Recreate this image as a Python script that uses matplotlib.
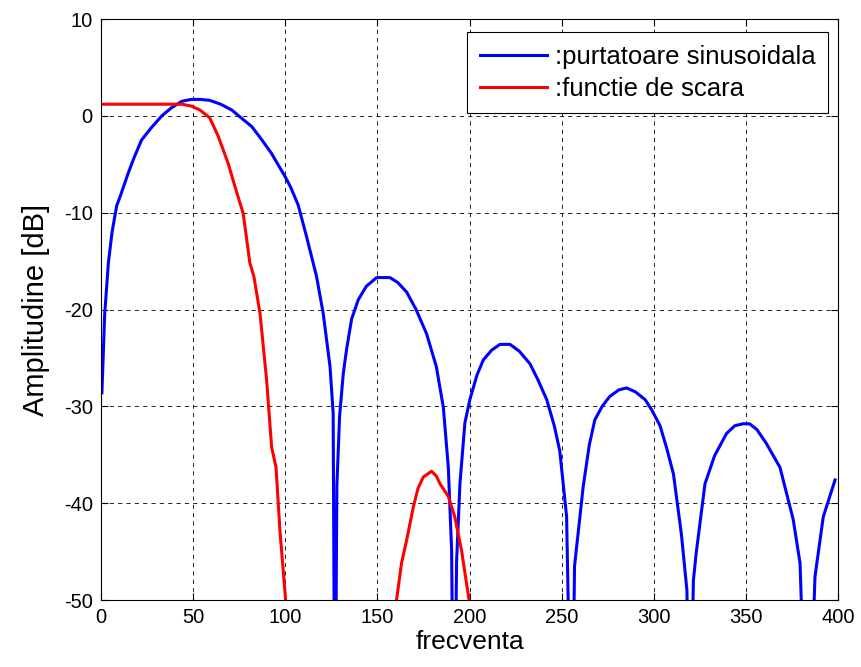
import numpy as np
import matplotlib
matplotlib.use("Agg")
import matplotlib.pyplot as plt

plt.rcParams['font.family'] = ['Liberation Sans', 'DejaVu Sans']
plt.rcParams['axes.unicode_minus'] = False

# purtatoare sinusoidala (blue)
blue_x = [0.5, 2, 4, 6, 8.5, 11, 14.8, 18, 22, 27, 33, 38, 43.8, 49, 54, 59, 65, 71, 76, 81.8,
          87, 92.6, 100, 103, 107, 111.6, 117, 120.6, 124.3, 126, 127, 128, 129.5, 131.5, 133.3,
          136, 139.6, 144, 149.6, 156.8, 161, 165.9, 171, 176.7, 182, 185.8, 188.5, 190.3, 191.5,
          193, 194.8, 197.5, 200.2, 204, 207.5, 212, 216.5, 222, 227, 232.8, 237, 241.9, 246, 249,
          252.7, 255.5, 257, 261.7, 265, 268, 272, 276, 281, 285.3, 290, 295.3, 299, 303.4, 307,
          310.7, 315, 318, 319.5, 321.5, 323, 327.8, 333, 339.5, 344, 348.5, 352, 356, 361, 368.5,
          375.7, 379.4, 383.5, 387.5, 392, 398.4]
blue_y = [-28.6, -20.5, -15.2, -12, -9.3, -8.0, -5.9, -4.3, -2.5, -1.3, 0, 0.8, 1.5, 1.7, 1.7, 1.6,
          1.2, 0.6, -0.2, -1.1, -2.4, -3.9, -6.3, -7.4, -9.2, -12.5, -16.6, -20.4, -25.9, -30.7, -70,
          -38.3, -31, -26.6, -24.1, -21, -19, -17.6, -16.7, -16.7, -17.2, -18.2, -20, -22.5, -25.9,
          -30.1, -36.3, -44.9, -70, -46, -38, -31.7, -29.3, -26.8, -25.2, -24.2, -23.6, -23.6, -24.3,
          -25.6, -27.2, -29.3, -32, -34.6, -41.4, -70, -46.5, -38.3, -34, -31.4, -30, -29, -28.3,
          -28.1, -28.5, -29.3, -30.4, -32, -34.3, -37, -43.2, -49, -70, -48, -45.2, -38, -35.1,
          -32.8, -32, -31.8, -31.8, -32.4, -33.8, -36.3, -41.7, -46.2, -70, -47.6, -41.4, -37.6]

# functie de scara (red)
red_x = [0, 10, 20, 30, 40, 44, 49.2, 53.7, 59, 63.6, 69, 72.7, 77.2, 80.8, 83, 86.3, 89.9, 92.6,
         95, 97.1, 100.2, np.nan, 160.4, 163.1, 165.9, 169.5, 172, 174.9, 179.4, 182, 184, 188.5,
         192, 195.7, 198.4, 199.8]
red_y = [1.2, 1.2, 1.2, 1.2, 1.2, 1.2, 1.0, 0.6, -0.2, -2.1, -4.9, -7.3, -10.1, -15.2, -16.6, -20.4,
         -27.3, -34.2, -36.3, -42.8, -50, np.nan, -50, -46.2, -43.8, -40.4, -38.5, -37.3, -36.7,
         -37.2, -38, -39.3, -41.4, -44.9, -48.3, -50]

fig = plt.figure(figsize=(8.61, 6.67), dpi=100)
ax = fig.add_axes([0.1173, 0.1004, 0.856, 0.8711])

ax.plot(blue_x, blue_y, color='#0000ff', lw=2.2, label=':purtatoare sinusoidala')
ax.plot(red_x, red_y, color='#ff0000', lw=2.2, label=':functie de scara')

ax.set_xlim(0, 400)
ax.set_ylim(-50, 10)
ax.set_xticks(range(0, 401, 50))
ax.set_yticks(range(-50, 11, 10))
ax.grid(True, color='black', linestyle=(0, (5, 5)), linewidth=0.6)
ax.tick_params(direction='in', top=True, right=True, labelsize=14.5, length=5, pad=6)
for s in ax.spines.values():
    s.set_linewidth(0.8)

ax.set_xlabel('frecventa', fontsize=19, labelpad=2)
ax.set_ylabel('Amplitudine [dB]', fontsize=21, labelpad=10)

leg = ax.legend(loc='upper right', fontsize=18.5, fancybox=False, edgecolor='black',
                framealpha=1, handlelength=2.6, handletextpad=0.3, borderpad=0.5,
                labelspacing=0.3, borderaxespad=0, bbox_to_anchor=(0.9864, 0.9776))
leg.get_frame().set_linewidth(0.8)

fig.savefig('out.png', dpi=100)
